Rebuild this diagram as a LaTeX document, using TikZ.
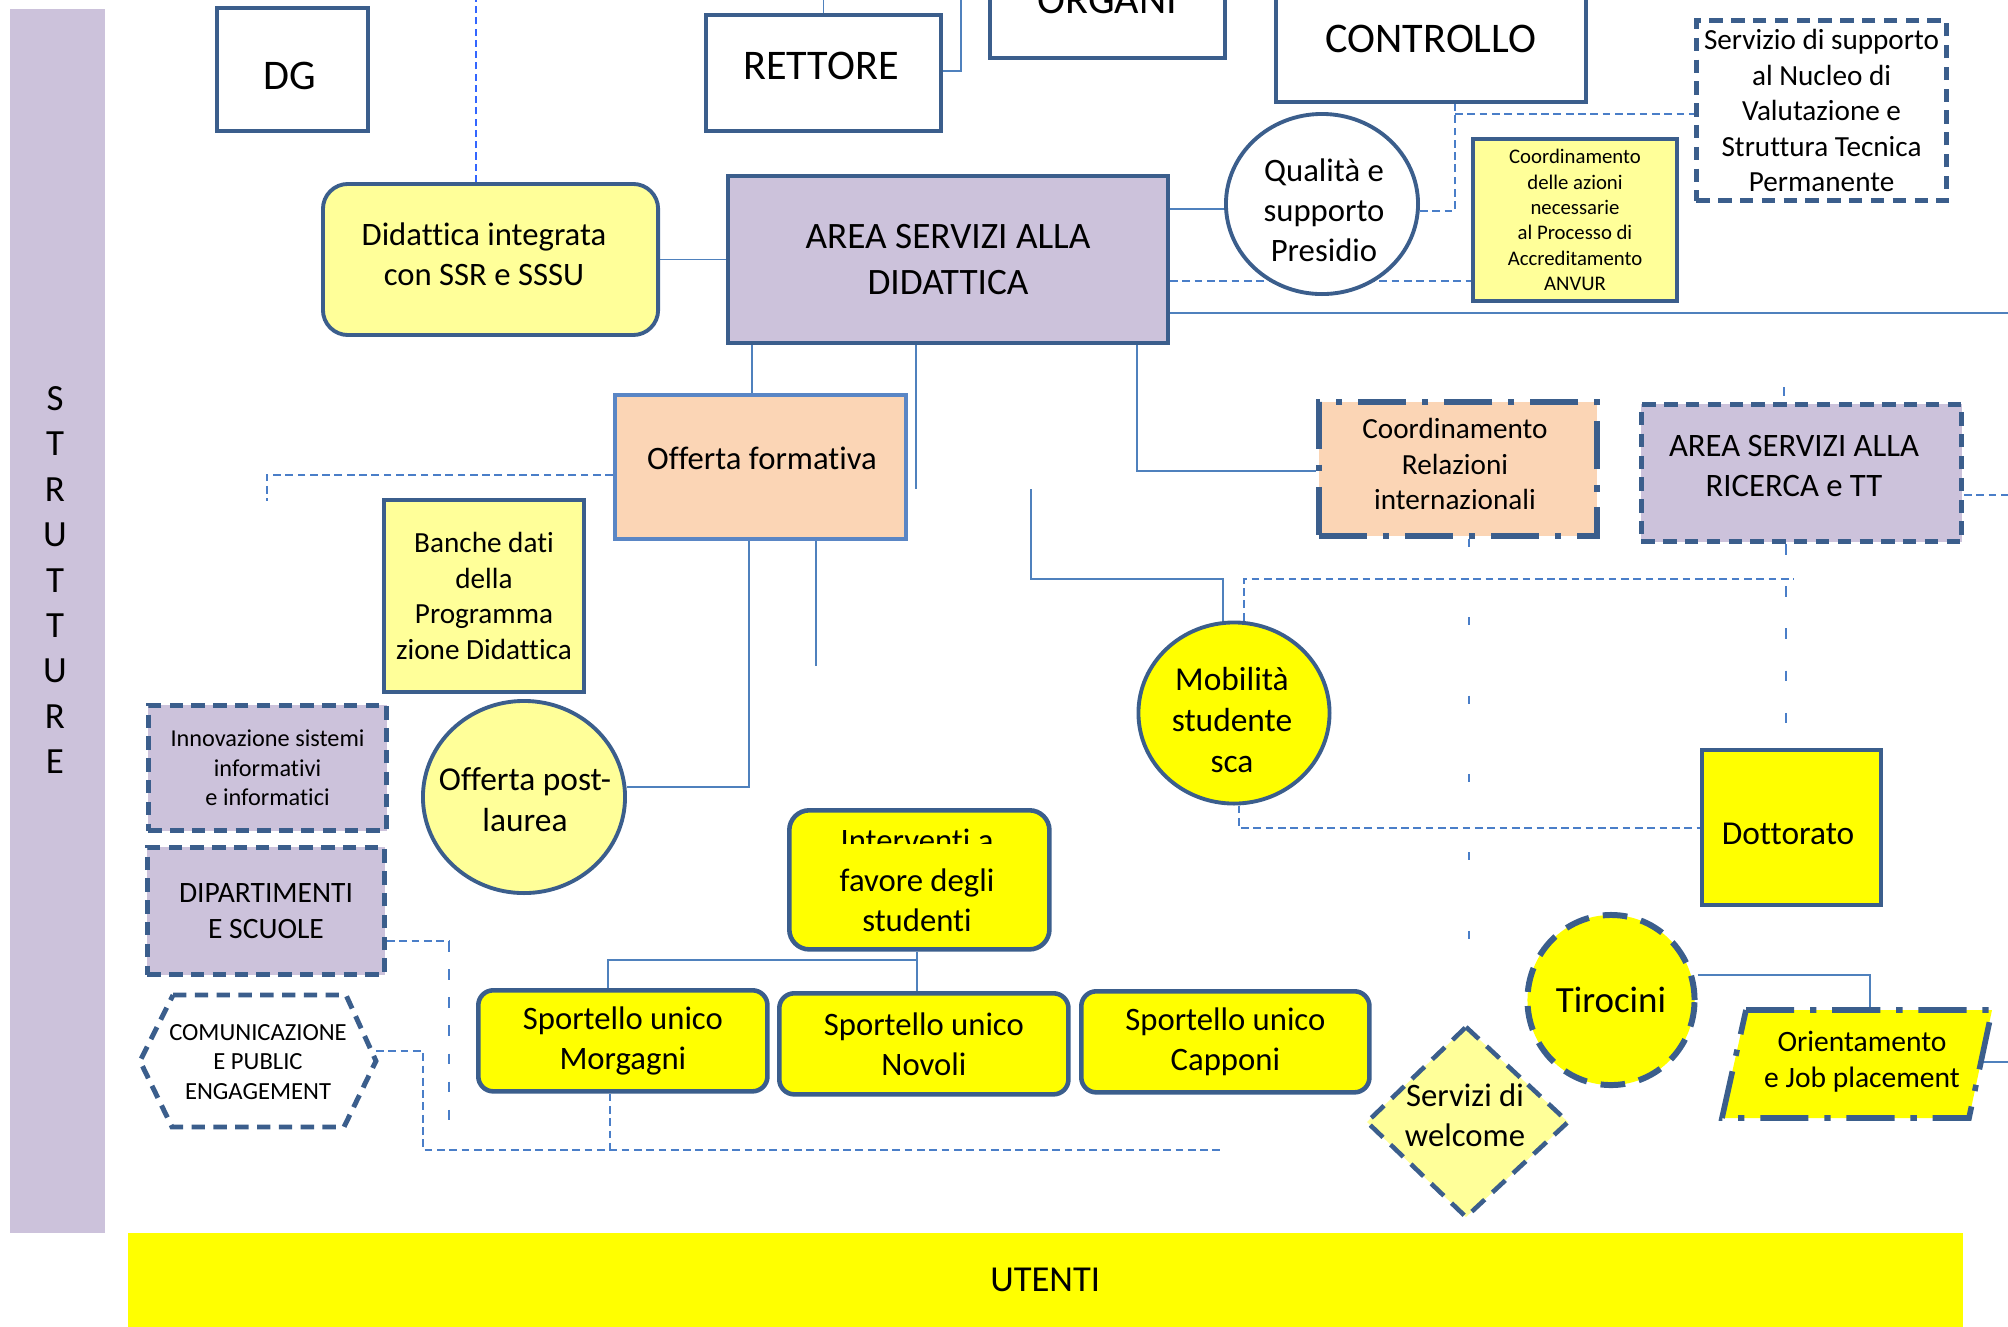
\documentclass[tikz,border=0pt]{standalone}
\usepackage{fontspec}
\setmainfont[Ligatures={NoCommon,NoContextual}]{Carlito}
\usetikzlibrary{shapes.geometric}
\pgfdeclarelayer{bg}
\pgfsetlayers{bg,main}
\definecolor{bdr}{HTML}{3B5E8C}
\definecolor{lav}{HTML}{CCC2DB}
\definecolor{lyel}{HTML}{FFFF99}
\definecolor{yel}{HTML}{FFFF00}
\definecolor{peach}{HTML}{FBD5B5}
\definecolor{ln}{HTML}{4F81BD}
\definecolor{offb}{HTML}{5A86C5}
\definecolor{dln}{HTML}{4A7EC8}
\definecolor{bdash}{HTML}{3366FF}
\newcommand\fz[2]{\fontsize{#1pt}{#2pt}\selectfont}
\begin{document}
\begin{tikzpicture}[x=0.01cm,y=-0.01cm,
  box/.style={draw=bdr,line width=1.1pt,align=center,inner sep=0pt,anchor=north west,text=black},
  dbox/.style={box,line width=1.4pt,dash pattern=on 3.8pt off 2.4pt},
  ddbox/.style={box,line width=1.6pt,dash pattern=on 13.7pt off 4.5pt on 1.8pt off 4.5pt},
  ell/.style={ellipse,draw=bdr,line width=1.1pt,inner sep=0pt},
  conn/.style={draw=ln,line width=0.5pt},
  dconn/.style={draw=dln,line width=0.55pt,dash pattern=on 2.2pt off 1.3pt},
  sconn/.style={draw=dln,line width=0.55pt,dash pattern=on 2.3pt off 20pt},
  txt/.style={align=center,inner sep=0pt,text=black}]
\useasboundingbox (0,0) rectangle (2008,1326);

% left bar
\node[fill=lav,anchor=north west,minimum width=0.95cm,minimum height=12.24cm,inner sep=0pt] (stru) at (9,8) {};
\node[txt,font=\fz{10.5}{12.9}] (strut) at (55,580) {S\\T\\R\\U\\T\\T\\U\\R\\E};

% top row
\node[box,minimum width=1.51cm,minimum height=1.23cm] (dg) at (215,6) {};
\node[txt,font=\fz{12}{14.6}] (dgt) at (290,76) {DG};
\node[box,minimum width=2.35cm,minimum height=1.16cm] (rett) at (704,13) {};
\node[txt,font=\fz{12}{14.6}] (rettt) at (821,66) {RETTORE};
\node[box,minimum width=2.35cm,minimum height=1.16cm,font=\fz{12}{14.6}] (org) at (988,-60) {ORGANI};
\node[box,minimum width=3.10cm,minimum height=1.27cm,font=\fz{12}{14.6}] (ctrl) at (1274,-27) {CONTROLLO};
\node[dbox,minimum width=2.50cm,minimum height=1.80cm,font=\fz{8.3}{10.1}] (serv) at (1694,18) {Servizio di supporto\\al Nucleo di\\Valutazione e\\Struttura Tecnica\\Permanente};

% second row
\node[box,fill=lyel,rounded corners=0.25cm,minimum width=3.35cm,minimum height=1.51cm] (did) at (321,182) {};
\node[txt,font=\fz{9.3}{11.4}] (didt) at (484,254) {Didattica integrata\\con SSR e SSSU};
\node[box,fill=lav,minimum width=4.40cm,minimum height=1.67cm,font=\fz{10.6}{13}] (area) at (726,174) {AREA SERVIZI ALLA\\DIDATTICA};
\node[ell,fill=white,minimum width=1.92cm,minimum height=1.80cm] (qual) at (1322,204) {};
\node[txt,font=\fz{9.3}{11.4}] (qualt) at (1324,210) {Qualità e\\supporto\\Presidio};
\node[box,fill=lyel,minimum width=2.04cm,minimum height=1.62cm,font=\fz{5.9}{7.2}] (anv) at (1471,137) {Coordinamento\\delle azioni\\necessarie\\al Processo di\\Accreditamento\\ANVUR};

% middle
\node[box,draw=offb,fill=peach,minimum width=2.91cm,minimum height=1.44cm] (offa) at (613,393) {};
\node[txt,font=\fz{9.3}{11.4}] (offat) at (762,458.5) {Offerta formativa};
\node[box,fill=lyel,minimum width=2.00cm,minimum height=1.92cm,font=\fz{8.3}{10.1}] (ban) at (382,498) {Banche dati\\della\\Programma\\zione Didattica};
\node[dbox,fill=lav,minimum width=2.38cm,minimum height=1.25cm,font=\fz{6.9}{8.4}] (inn) at (146,703) {Innovazione sistemi\\informativi\\e informatici};
\node[ell,fill=lyel,minimum width=2.02cm,minimum height=1.92cm] (opl) at (524,797) {};
\node[txt,font=\fz{9.5}{11.6}] (oplt) at (525,800) {Offerta post-\\laurea};
\node[dbox,fill=lav,minimum width=2.37cm,minimum height=1.27cm,font=\fz{8.4}{10.2}] (dip) at (145,845) {DIPARTIMENTI\\E SCUOLE};

% hexagon
\coordinate (h1) at (173,995); \coordinate (h2) at (346,995); \coordinate (h3) at (376,1061);
\coordinate (h4) at (344,1127); \coordinate (h5) at (172,1127); \coordinate (h6) at (140,1061);
\draw[draw=bdr,fill=white,line width=1.4pt,dash pattern=on 3.8pt off 2.4pt] (h1) -- (h2) -- (h3) -- (h4) -- (h5) -- (h6) -- cycle;
\node[txt,font=\fz{7}{8.5}] (com) at (258,1062) {COMUNICAZIONE\\E PUBLIC\\ENGAGEMENT};

% interventi
\node[box,fill=yel,rounded corners=0.2cm,line width=1.3pt,minimum width=2.60cm,minimum height=1.39cm] (int) at (787,808) {};
\node[txt,font=\fz{9.3}{11.4}] (intt) at (917,900) {favore degli\\studenti};
\begin{scope}
\clip (790,811) rectangle (1044,843);
\node[txt,font=\fz{9.3}{11.4}] (inta) at (917,840) {Interventi a};
\end{scope}

% sportelli
\node[box,fill=yel,rounded corners=0.15cm,line width=1.3pt,minimum width=2.89cm,minimum height=1.01cm,font=\fz{9.3}{11.4}] (morg) at (476,988) {Sportello unico\\Morgagni};
\node[box,fill=yel,rounded corners=0.15cm,line width=1.3pt,minimum width=2.89cm,minimum height=1.01cm,font=\fz{9.3}{11.4}] (nov) at (777,991) {Sportello unico\\Novoli};
\node[box,fill=yel,rounded corners=0.15cm,line width=1.3pt,minimum width=2.88cm,minimum height=1.01cm,font=\fz{9.3}{11.4}] (cap) at (1079,989) {Sportello unico\\Capponi};

% right side
\node[ell,fill=yel,minimum width=1.91cm,minimum height=1.81cm] (mob) at (1234,713) {};
\node[txt,font=\fz{9.5}{11.6}] (mobt) at (1232,720) {Mobilità\\studente\\sca};
\node[ddbox,fill=peach,minimum width=2.78cm,minimum height=1.34cm] (cri) at (1316,399) {};
\node[txt,font=\fz{8.3}{10.1}] (crit) at (1455,464) {Coordinamento\\Relazioni\\internazionali};
\node[dbox,fill=lav,minimum width=3.20cm,minimum height=1.37cm] (ric) at (1639,402) {};
\node[txt,font=\fz{9.3}{11.4}] (rict) at (1794,466) {AREA SERVIZI ALLA\\RICERCA e TT};
\node[box,fill=yel,minimum width=1.79cm,minimum height=1.55cm] (dot) at (1700,748) {};
\node[txt,font=\fz{9.5}{11.6}] (dott) at (1788,834) {Dottorato};
\node[ell,fill=yel,line width=1.7pt,dash pattern=on 7pt off 4pt,minimum width=1.67cm,minimum height=1.70cm,align=center,text=black,font=\fz{10.5}{12.8}] (tir) at (1611,1000) {Tirocini};

% orientamento parallelogram
\coordinate (o1) at (1746,1010); \coordinate (o2) at (1992,1010);
\coordinate (o3) at (1969,1118); \coordinate (o4) at (1722,1118);
\draw[draw=bdr,fill=yel,line width=1.6pt,dash pattern=on 13.7pt off 4.5pt on 1.8pt off 4.5pt] (o1) -- (o2) -- (o3) -- (o4) -- cycle;
\node[txt,font=\fz{8.4}{10.2}] (ori) at (1862,1062) {Orientamento\\e Job placement};

% welcome diamond
\coordinate (w1) at (1466,1027); \coordinate (w2) at (1568,1122);
\coordinate (w3) at (1466,1217); \coordinate (w4) at (1367,1122);
\draw[draw=bdr,fill=lyel,line width=1.3pt,dash pattern=on 5pt off 3pt] (w1) -- (w2) -- (w3) -- (w4) -- cycle;
\node[txt,font=\fz{9.3}{11.4}] (wel) at (1465,1115) {Servizi di\\welcome};

% utenti
\node[fill=yel,anchor=north west,minimum width=18.34cm,minimum height=0.94cm,inner sep=0pt,font=\fz{10.4}{12.7},text=black] (ute) at (127,1232) {UTENTI};

% connectors
\begin{pgfonlayer}{bg}
\draw[conn] (rett.north) -- (rett.north |- 0,0);
\draw[conn] (rett.east |- 0,71) -- (961,71) -- (961,0);
\draw[conn] (did.east) -- (did.east -| area.west);
\draw[conn] (area.east |- 0,209) -- (qual.west |- 0,209);
\draw[conn] (area.east |- 0,313) -- (2008,313);
\draw[conn] (752,0 |- area.south) -- (752,0 |- offa.north);
\draw[conn] (916,0 |- area.south) -- (916,489);
\draw[conn] (1137,0 |- area.south) -- (1137,471) -- (1137,471 -| cri.west);
\draw[conn] (749,0 |- offa.south) -- (749,787) -- (opl.east |- 0,787);
\draw[conn] (816,0 |- offa.south) -- (816,666);
\draw[conn] (1031,489) -- (1031,579) -- (1223,579) -- (1223,0 |- mob.north);
\draw[conn] (917,0 |- int.south) -- (917,0 |- nov.north);
\draw[conn] (917,960) -- (608,960) -- (608,0 |- morg.north);
\draw[conn] (tir.east |- 0,975) -- (1870,975) -- (1870,0 |- o1);
\draw[conn] (1982,1062) -- (2008,1062);

\draw[dconn,draw=bdash,line width=0.7pt,dash pattern=on 2pt off 1.2pt] (476,0 |- did.north) -- (476,0);
\draw[dconn] (area.east |- 0,281) -- (anv.west |- 0,281);
\draw[dconn] (qual.east |- 0,211) -- (1455,211) -- (1455,0 |- ctrl.south);
\draw[dconn] (1455,114) -- (serv.west |- 0,114);
\draw[dconn] (offa.west |- 0,475) -- (267,475) -- (267,501);
\draw[dconn] (dip.east |- 0,941) -- (449,941);
\draw[dconn,dash pattern=on 3pt off 5pt] (449,941) -- (449,1122);
\draw[dconn] (h3 |- 0,1051) -- (423,1051) -- (423,1150) -- (1222,1150);
\draw[dconn] (610,0 |- morg.south) -- (610,1150);
\draw[dconn] (1244,0 |- mob.north) -- (1244,579) -- (1794,579);
\draw[dconn] (1239,0 |- mob.south) -- (1239,828) -- (dot.west |- 0,828);
\draw[sconn] (1469,0 |- cri.south) -- (1469,940);
\draw[dconn,dash pattern=on 3pt off 9pt] (1786,0 |- ric.south) -- (1786,0 |- dot.north);
\draw[dconn] (ric.east |- 0,495) -- (2008,495);
\draw[draw=dln,line width=0.55pt] (1784,387) -- (1784,396);
\end{pgfonlayer}
\end{tikzpicture}
\end{document}
